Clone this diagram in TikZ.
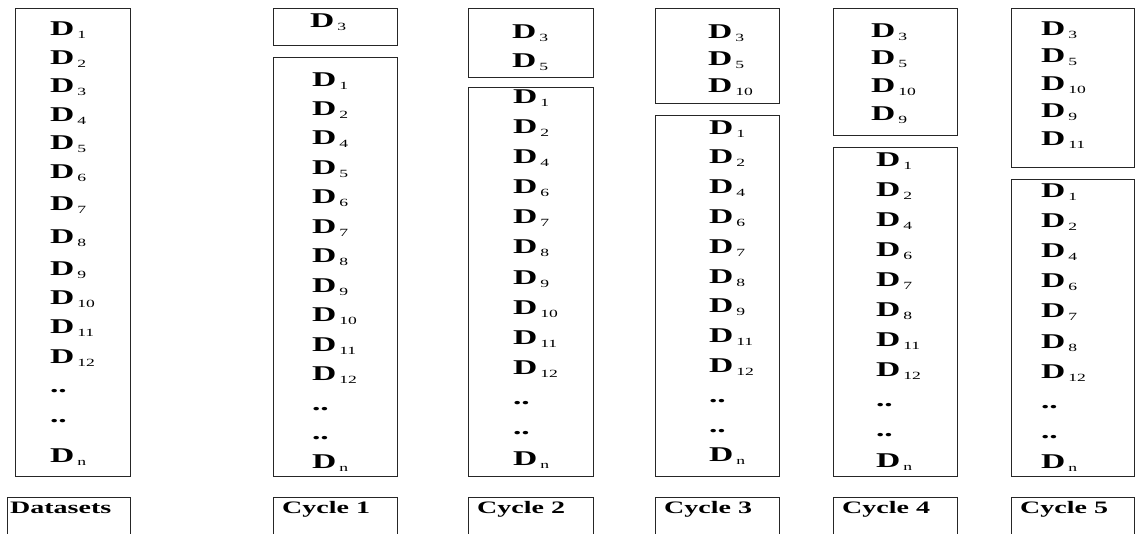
\documentclass[tikz,border=0pt]{standalone}
\usepackage{fontspec}
\setmainfont{Liberation Serif}[FakeStretch=1.6]
\usetikzlibrary{fit}
\newcommand{\bigDfont}{\fontsize{21}{21}\selectfont\bfseries}
\newcommand{\subDfont}{\fontsize{11}{11}\selectfont\mdseries}
\newcommand{\Dlab}[1]{{\bigDfont D}\kern3pt\raisebox{-3pt}{\subDfont #1}}
\newcommand{\Ddots}{{\bigDfont ..}}
\newcommand{\DrawRows}[5]{%
  \foreach \t [count=\i] in {#5}{%
    \node[item] (#1-\i) at (#2,{#3+7+(\i-1)*#4}) {\t};}}
\tikzset{
  box/.style={draw=black!85, line width=0.9pt, inner sep=0pt},
  item/.style={anchor=base west, inner sep=0pt, outer sep=0pt},
  labtext/.style={anchor=base west, inner sep=0pt, font=\fontsize{17.5}{17.5}\selectfont\bfseries}
}
\begin{document}
\begin{tikzpicture}[x=1pt,y=-1pt]
\useasboundingbox (0,0) rectangle (1135,533);
\clip (0,0) rectangle (1135,533);
% Datasets column
\node[box, fit={(15,8) (130,476)}] (d0) {};
\node[item] (d0-1) at (50,35) {\Dlab{1}};
\node[item] (d0-2) at (50,64) {\Dlab{2}};
\node[item] (d0-3) at (50,92) {\Dlab{3}};
\node[item] (d0-4) at (50,121) {\Dlab{4}};
\node[item] (d0-5) at (50,149) {\Dlab{5}};
\node[item] (d0-6) at (50,178) {\Dlab{6}};
\node[item] (d0-7) at (50,210) {\Dlab{7}};
\node[item] (d0-8) at (50,243) {\Dlab{8}};
\node[item] (d0-9) at (50,275) {\Dlab{9}};
\node[item] (d0-10) at (50,304) {\Dlab{10}};
\node[item] (d0-11) at (50,333) {\Dlab{11}};
\node[item] (d0-12) at (50,363) {\Dlab{12}};
\node[item] (d0-13) at (50,392) {\Ddots};
\node[item] (d0-14) at (50,422) {\Ddots};
\node[item] (d0-15) at (50,462) {\Dlab{n}};
% Cycle 1
\node[box, fit={(273,8) (397,45)}] (c1t) {};
\DrawRows{c1t}{310}{20}{28}{\Dlab{3}}
\node[box, fit={(273,57) (397,476)}] (c1b) {};
\DrawRows{c1b}{312}{79}{29.46}{\Dlab{1},\Dlab{2},\Dlab{4},\Dlab{5},\Dlab{6},\Dlab{7},\Dlab{8},\Dlab{9},\Dlab{10},\Dlab{11},\Dlab{12},\Ddots,\Ddots,\Dlab{n}}
% Cycle 2
\node[box, fit={(468,8) (593,77)}] (c2t) {};
\DrawRows{c2t}{512}{31}{29}{\Dlab{3},\Dlab{5}}
\node[box, fit={(468,87) (593,476)}] (c2b) {};
\DrawRows{c2b}{513}{96}{30.17}{\Dlab{1},\Dlab{2},\Dlab{4},\Dlab{6},\Dlab{7},\Dlab{8},\Dlab{9},\Dlab{10},\Dlab{11},\Dlab{12},\Ddots,\Ddots,\Dlab{n}}
% Cycle 3
\node[box, fit={(655,8) (779,103)}] (c3t) {};
\DrawRows{c3t}{708}{31}{27}{\Dlab{3},\Dlab{5},\Dlab{10}}
\node[box, fit={(655,115) (779,476)}] (c3b) {};
\DrawRows{c3b}{709}{127}{29.8}{\Dlab{1},\Dlab{2},\Dlab{4},\Dlab{6},\Dlab{7},\Dlab{8},\Dlab{9},\Dlab{11},\Dlab{12},\Ddots,\Ddots,\Dlab{n}}
% Cycle 4
\node[box, fit={(833,8) (957,135)}] (c4t) {};
\DrawRows{c4t}{871}{30}{27.7}{\Dlab{3},\Dlab{5},\Dlab{10},\Dlab{9}}
\node[box, fit={(833,147) (957,476)}] (c4b) {};
\DrawRows{c4b}{876}{159}{30.1}{\Dlab{1},\Dlab{2},\Dlab{4},\Dlab{6},\Dlab{7},\Dlab{8},\Dlab{11},\Dlab{12},\Ddots,\Ddots,\Dlab{n}}
% Cycle 5
\node[box, fit={(1011,8) (1134,167)}] (c5t) {};
\DrawRows{c5t}{1041}{28}{27.5}{\Dlab{3},\Dlab{5},\Dlab{10},\Dlab{9},\Dlab{11}}
\node[box, fit={(1011,179) (1134,476)}] (c5b) {};
\DrawRows{c5b}{1041}{190}{30.2}{\Dlab{1},\Dlab{2},\Dlab{4},\Dlab{6},\Dlab{7},\Dlab{8},\Dlab{12},\Ddots,\Ddots,\Dlab{n}}
% Label boxes (open at the bottom edge of the picture)
\node[box, fit={(7,497) (130,560)}] (l0) {};
\node[labtext] (l0t) at (10,513) {Datasets};
\node[box, fit={(273,497) (397,560)}] (l1) {};
\node[labtext] (l1t) at (282,513) {Cycle 1};
\node[box, fit={(468,497) (593,560)}] (l2) {};
\node[labtext] (l2t) at (477,513) {Cycle 2};
\node[box, fit={(655,497) (779,560)}] (l3) {};
\node[labtext] (l3t) at (664,513) {Cycle 3};
\node[box, fit={(833,497) (957,560)}] (l4) {};
\node[labtext] (l4t) at (842,513) {Cycle 4};
\node[box, fit={(1011,497) (1134,560)}] (l5) {};
\node[labtext] (l5t) at (1020,513) {Cycle 5};
\end{tikzpicture}
\end{document}
